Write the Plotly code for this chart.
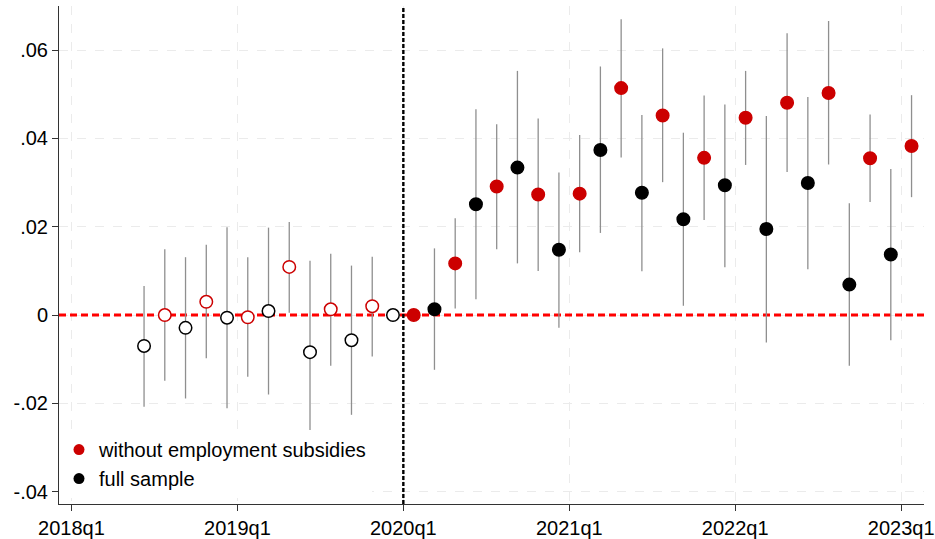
import plotly.graph_objects as go

# Quarter index: 0 = 2018q1, 4 = 2019q1, ...
quarters = list(range(2, 21))  # 2018q3 .. 2023q1
tick_vals = [0, 4, 8, 12, 16, 20]
tick_text = ["2018q1", "2019q1", "2020q1", "2021q1", "2022q1", "2023q1"]
y_tick_vals = [-0.04, -0.02, 0, 0.02, 0.04, 0.06]
y_tick_text = ["-.04", "-.02", "0", ".02", ".04", ".06"]
event_quarter = 8  # 2020q1

# Full sample: point estimates and 95% confidence bounds
full_est = [-0.0070, -0.0029, -0.0006, 0.0009, -0.0084, -0.0057, 0.0000,
            0.0013, 0.0251, 0.0334, 0.0148, 0.0374, 0.0277, 0.0217,
            0.0294, 0.0195, 0.0299, 0.0069, 0.0137]
full_hi = [0.0066, 0.0131, 0.0199, 0.0198, 0.0123, 0.0112, 0.0000,
           0.0151, 0.0466, 0.0553, 0.0323, 0.0563, 0.0453, 0.0413,
           0.0477, 0.0451, 0.0494, 0.0253, 0.0331]
full_lo = [-0.0208, -0.0189, -0.0211, -0.0180, -0.0262, -0.0226, 0.0000,
           -0.0124, 0.0036, 0.0117, -0.0029, 0.0186, 0.0099, 0.0021,
           0.0108, -0.0062, 0.0104, -0.0115, -0.0057]
full_filled = [False] * 7 + [True] * 12

# Without employment subsidies: point estimates and 95% confidence bounds
nosub_est = [0.0000, 0.0030, -0.0005, 0.0109, 0.0013, 0.0020, 0.0000,
             0.0117, 0.0291, 0.0273, 0.0275, 0.0514, 0.0452, 0.0356,
             0.0447, 0.0481, 0.0503, 0.0355, 0.0383]
nosub_hi = [0.0149, 0.0159, 0.0131, 0.0211, 0.0139, 0.0132, 0.0000,
            0.0219, 0.0432, 0.0445, 0.0408, 0.0670, 0.0604, 0.0497,
            0.0553, 0.0638, 0.0666, 0.0454, 0.0498]
nosub_lo = [-0.0149, -0.0098, -0.0140, 0.0005, -0.0115, -0.0094, 0.0000,
            0.0015, 0.0149, 0.0100, 0.0142, 0.0357, 0.0301, 0.0215,
            0.0340, 0.0324, 0.0341, 0.0256, 0.0267]
nosub_filled = [False] * 6 + [True] * 13

RED = "#cc0000"
BLACK = "#000000"
CI_GRAY = "#8f8f8f"
OFFSET = 0.25
X_RANGE = [-0.30, 20.55]
Y_RANGE = [-0.0428, 0.0700]


def series(est, hi, lo, filled, color, shift):
    xs = [q + shift for q in quarters]
    fills = [color if f else "white" for f in filled]
    return go.Scatter(
        x=xs, y=est, mode="markers", showlegend=False, hoverinfo="skip",
        marker=dict(size=12.5, color=fills, symbol="circle",
                    line=dict(color=color, width=1.5)),
        error_y=dict(type="data", symmetric=False,
                     array=[h - e for h, e in zip(hi, est)],
                     arrayminus=[e - l for e, l in zip(est, lo)],
                     color=CI_GRAY, thickness=1.3, width=0),
    )


fig = go.Figure()

# Reference lines (drawn first so the estimates sit on top): zero effect and event date
fig.add_trace(go.Scatter(x=X_RANGE, y=[0, 0], mode="lines", showlegend=False,
                         hoverinfo="skip", cliponaxis=False,
                         line=dict(color="#ff0000", width=3, dash="7px,4px")))
fig.add_trace(go.Scatter(x=[event_quarter, event_quarter],
                         y=[Y_RANGE[0], Y_RANGE[1] * 0.995], mode="lines",
                         showlegend=False, hoverinfo="skip",
                         line=dict(color="#000000", width=2.4, dash="4px,2px")))

fig.add_trace(series(full_est, full_hi, full_lo, full_filled, BLACK, -OFFSET))
fig.add_trace(series(nosub_est, nosub_hi, nosub_lo, nosub_filled, RED, OFFSET))

# Legend entries
fig.add_trace(go.Scatter(x=[None], y=[None], mode="markers",
                         name="without employment subsidies",
                         marker=dict(size=11, color=RED)))
fig.add_trace(go.Scatter(x=[None], y=[None], mode="markers",
                         name="full sample",
                         marker=dict(size=11, color=BLACK)))

grid = "#ebebeb"
fig.update_layout(
    width=935, height=539,
    margin=dict(l=59, r=11, t=6, b=35),
    plot_bgcolor="white", paper_bgcolor="white",
    font=dict(family="Liberation Sans, Arial, sans-serif", size=20, color="#000000"),
    legend=dict(x=0.0, y=0.012, xanchor="left", yanchor="bottom",
                bgcolor="white", borderwidth=0, font=dict(size=20),
                tracegroupgap=0, itemwidth=30),
    xaxis=dict(range=X_RANGE, tickvals=tick_vals, ticktext=tick_text,
               automargin=False,
               showgrid=True, gridcolor=grid, griddash="dash", gridwidth=1.2,
               zeroline=False, showline=True, linecolor="#333333", linewidth=1,
               ticks="outside", ticklen=6, tickcolor="#333333"),
    yaxis=dict(range=Y_RANGE, tickvals=y_tick_vals, ticktext=y_tick_text,
               automargin=False,
               showgrid=True, gridcolor=grid, griddash="dash", gridwidth=1.2,
               zeroline=False, showline=True, linecolor="#333333", linewidth=1,
               ticks="outside", ticklen=6, tickcolor="#333333"),
)

fig.write_html("out.html")
